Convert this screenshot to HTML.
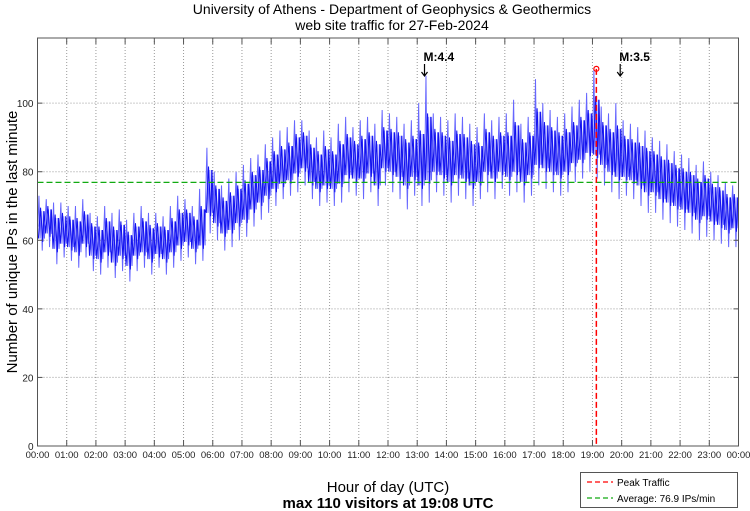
<!DOCTYPE html>
<html><head><meta charset="utf-8"><style>
body{margin:0;background:#fff;}
svg{display:block;font-family:"Liberation Sans",sans-serif;}
</style></head><body>
<svg id="chart" width="750" height="511" viewBox="0 0 750 511">
<text x="392" y="14" font-size="14" text-anchor="middle">University of Athens - Department of Geophysics &amp; Geothermics</text>
<text x="392" y="30" font-size="14" text-anchor="middle">web site traffic for 27-Feb-2024</text>
<text transform="translate(17,242) rotate(-90)" font-size="15" text-anchor="middle">Number of unique IPs in the last minute</text>
<text x="388" y="492" font-size="15" text-anchor="middle">Hour of day (UTC)</text>
<text x="388" y="508" font-size="15" font-weight="bold" text-anchor="middle">max 110 visitors at 19:08 UTC</text>
<g id="grid"></g>
<g id="series"></g>
<g id="axes"></g>
<g>
<rect x="580.5" y="472.5" width="157" height="35" fill="#fff" stroke="#555"/>
<line x1="587" y1="482" x2="613" y2="482" stroke="#f00" stroke-width="1.3" stroke-dasharray="5,3"/>
<text x="617" y="486" font-size="10">Peak Traffic</text>
<line x1="587" y1="498" x2="613" y2="498" stroke="#1a1" stroke-width="1.3" stroke-dasharray="5,3"/>
<text x="617" y="502" font-size="10">Average: 76.9 IPs/min</text>
</g>
</svg>
<script>
const yTicks=[0,20,40,60,80,100];
const xTickLabels=["00:00","01:00","02:00","03:00","04:00","05:00","06:00","07:00","08:00","09:00","10:00","11:00","12:00","13:00","14:00","15:00","16:00","17:00","18:00","19:00","20:00","21:00","22:00","23:00","00:00"];
const highs=[73,72,71,71,70,70,72,68,67,70,68,69,66,68,70,68,68,67,70,73,72,70,75,87,80,76,78,80,82,84,85,88,90,92,93,95,95,92,90,92,90,94,96,93,95,96,94,98,97,96,94,95,100,108,97,96,95,97,96,94,93,97,95,96,97,101,94,96,107,100,98,96,97,99,101,103,110,99,97,100,95,94,93,92,90,89,88,86,85,84,82,83,80,79,77,76];
const lows=[57,58,53,55,54,52,55,51,50,52,49,51,48,51,52,50,52,50,52,54,55,53,54,62,60,57,58,60,61,64,66,68,70,72,73,74,76,72,70,71,70,71,74,73,72,74,70,76,74,72,69,73,70,71,74,73,71,73,72,70,72,74,72,75,73,74,71,73,76,75,74,73,74,77,78,80,78,76,74,72,73,72,70,68,68,66,65,64,63,62,60,61,60,59,58,58];
const means=[64,66,62,63,62,61,63,60,59,61,58,60,57,60,61,59,60,59,61,63,64,62,63,74,70,67,68,70,71,74,76,78,80,81,82,85,86,82,80,81,80,82,84,83,84,85,82,86,86,85,83,84,82,84,86,85,83,85,84,82,82,86,84,85,84,86,83,85,88,87,86,85,86,88,89,91,92,88,86,85,84,83,82,80,80,78,77,76,75,74,72,73,71,70,68,69];
const average=76.9;
const peakValue=110, peakHour=19+8/60;
const marks=[{label:"M:4.4",hour:13.25},{label:"M:3.5",hour:19.95}];

const L=37.5,R=738.5,T=38,B=446,YMAX=119;
const xs=h=>L+(R-L)*h/24;
const ys=v=>B-(B-T)*v/YMAX;
const NS="http://www.w3.org/2000/svg";
function mk(tag,attrs,parent){const e=document.createElementNS(NS,tag);for(const k in attrs)e.setAttribute(k,attrs[k]);parent.appendChild(e);return e;}
const grid=document.getElementById('grid'),axes=document.getElementById('axes'),series=document.getElementById('series');
yTicks.forEach(v=>{
  if(v>0){const g=mk('line',{x1:L,x2:R,y1:ys(v),y2:ys(v),stroke:'#999','stroke-dasharray':'1,2'},grid);
  
  }
  mk('line',{x1:L,x2:L+5,y1:ys(v),y2:ys(v),stroke:'#555'},axes);
  mk('line',{x1:R,x2:R-5,y1:ys(v),y2:ys(v),stroke:'#555'},axes);
  const t=mk('text',{x:L-4,y:ys(v)+4,'font-size':10,'text-anchor':'end',fill:'#222'},axes);
  t.textContent=v;
  
  
});
xTickLabels.forEach((lab,i)=>{
  const x=xs(i);
  if(i>0&&i<24){const g=mk('line',{x1:x,x2:x,y1:T,y2:B,stroke:'#999','stroke-dasharray':'1,2'},grid);
  
  }
  mk('line',{x1:x,x2:x,y1:B,y2:B-6,stroke:'#555'},axes);
  mk('line',{x1:x,x2:x,y1:T,y2:T+6,stroke:'#555'},axes);
  const t=mk('text',{x:x,y:B+12,'font-size':9.5,'text-anchor':'middle',fill:'#222'},axes);
  t.textContent=lab;
  
  
});
const frame=mk('rect',{x:L,y:T,width:R-L,height:B-T,fill:'none',stroke:'#555'},axes);


const n=highs.length,w=24/n;
let pts=[],pts2=[];
for(let i=0;i<n;i++){
  const h=highs[i],l=lows[i],m=means[i];
  pts.push(xs(i*w+w*0.05)+','+ys(m));
  pts.push(xs(i*w+w*0.2)+','+ys(h));
  pts.push(xs(i*w+w*0.35)+','+ys((l+m)/2));
  pts.push(xs(i*w+w*0.5)+','+ys((h+m)/2));
  pts.push(xs(i*w+w*0.65)+','+ys(l));
  pts.push(xs(i*w+w*0.8)+','+ys((h+m)/2));
  pts.push(xs(i*w+w*0.95)+','+ys((l+m)/2));
  pts2.push(xs(i*w+w*0.12)+','+ys((l+m)/2));
  pts2.push(xs(i*w+w*0.42)+','+ys((h+m)/2+1));
  pts2.push(xs(i*w+w*0.72)+','+ys((l+m)/2-1));
  pts2.push(xs(i*w+w*0.9)+','+ys((h+m)/2));
}
const band=mk('polyline',{points:pts.join(' '),fill:'none',stroke:'#6666ff','stroke-width':1},series);


const band2=mk('polyline',{points:pts2.join(' '),fill:'none',stroke:'#1111ee','stroke-width':1},series);


const avg=mk('line',{x1:L,x2:R,y1:ys(average),y2:ys(average),stroke:'#1a1','stroke-width':1.3,'stroke-dasharray':'6,3'},series);


const px=xs(peakHour);
const pl=mk('line',{x1:px,x2:px,y1:ys(peakValue),y2:B,stroke:'#f00','stroke-width':1.5,'stroke-dasharray':'6,3'},series);


const pc=mk('circle',{cx:px,cy:ys(peakValue),r:2.5,fill:'none',stroke:'#f00','stroke-width':1.2},series);


marks.forEach(m=>{
  const x=xs(m.hour);
  const t=mk('text',{x:x-1,y:61,'font-size':12,'font-weight':'bold'},series);
  t.textContent=m.label;
  
  
  const a=mk('path',{d:`M${x},64 L${x},76 M${x-3},72 L${x},76 L${x+3},72`,fill:'none',stroke:'#000','stroke-width':1.2},series);
  
  
});
</script>
</body></html>
